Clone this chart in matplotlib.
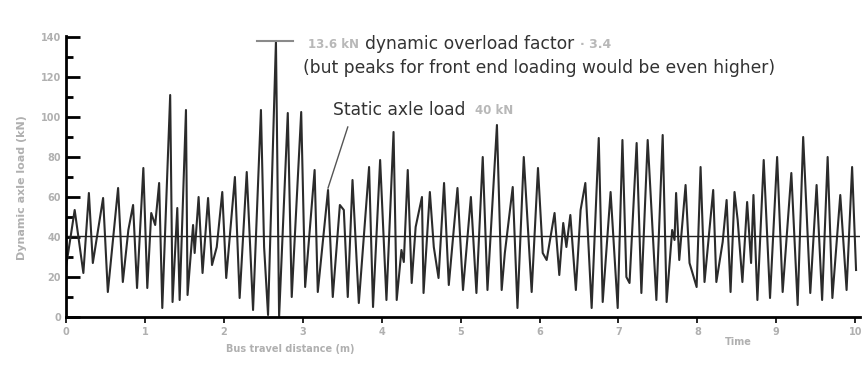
import matplotlib
matplotlib.use("Agg")
import matplotlib.pyplot as plt

time_s = [0.00, 0.11, 0.22, 0.29, 0.34, 0.47, 0.53, 0.66, 0.72, 0.79,
          0.85, 0.90, 0.98, 1.03, 1.08, 1.13, 1.18, 1.22, 1.32, 1.35,
          1.41, 1.44, 1.52, 1.54, 1.61, 1.63, 1.68, 1.73, 1.80, 1.85,
          1.91, 1.98, 2.03, 2.14, 2.20, 2.29, 2.37, 2.47, 2.51, 2.56,
          2.66, 2.70, 2.81, 2.86, 2.98, 3.03, 3.15, 3.19, 3.32, 3.38,
          3.47, 3.52, 3.57, 3.63, 3.71, 3.84, 3.89, 3.98, 4.06, 4.15,
          4.19, 4.25, 4.28, 4.33, 4.38, 4.43, 4.51, 4.53, 4.61, 4.66,
          4.72, 4.79, 4.85, 4.96, 5.03, 5.13, 5.20, 5.28, 5.34, 5.46,
          5.52, 5.56, 5.66, 5.72, 5.80, 5.90, 5.98, 6.04, 6.09, 6.19,
          6.25, 6.30, 6.34, 6.39, 6.46, 6.52, 6.58, 6.66, 6.75, 6.80,
          6.90, 6.99, 7.05, 7.10, 7.14, 7.23, 7.29, 7.37, 7.48, 7.56,
          7.61, 7.68, 7.71, 7.73, 7.77, 7.85, 7.90, 7.99, 8.04, 8.09,
          8.20, 8.24, 8.32, 8.37, 8.42, 8.47, 8.51, 8.57, 8.63, 8.68,
          8.71, 8.76, 8.84, 8.92, 9.01, 9.08, 9.19, 9.27, 9.34, 9.43,
          9.51, 9.58, 9.65, 9.71, 9.81, 9.89, 9.96, 10.01]
load_kn = [25, 53.5, 22, 62, 27, 59.5, 12.5, 64.5, 17.5, 43.5,
           56, 14.5, 74.5, 14.5, 52, 46, 67, 4.5, 111, 7.5,
           54.5, 8.5, 103.5, 11, 46, 32, 60, 22, 59.5, 26,
           35, 62.5, 19.5, 70, 9.5, 72.5, 3.5, 103.5, 35, 1,
           138, 0, 102, 10, 102.5, 15, 73.5, 12.5, 63.5, 10,
           56, 53.5, 10, 68.5, 7, 75, 5, 78.5, 8.5, 92.5,
           8.5, 33.5, 27.5, 73.5, 17, 45, 60, 12, 62.5, 35,
           19.5, 67, 16, 64.5, 13.5, 60, 12, 80, 13.5, 96,
           13.5, 32, 65, 4.5, 80, 12.5, 74.5, 32, 28.5, 52,
           21, 47, 35, 51, 13.5, 53.5, 67, 4.5, 89.5, 7.5,
           62.5, 4.5, 88.5, 20, 17, 87, 12, 88.5, 8.5, 91,
           7.5, 43.5, 38.5, 62, 28.5, 66, 27, 15, 75, 17.5,
           63.5, 17.5, 37.5, 58.5, 12.5, 62.5, 48.5, 17.5, 57.5, 27,
           61, 8.5, 78.5, 9.5, 80, 12.5, 72, 6, 90, 12,
           66, 8.5, 80, 9.5, 61, 13.5, 75, 23.5]

static_load = 40.5
peak_time, peak_load = 2.66, 138

x_ticks = list(range(0, 11))
x_ticklabels = [str(v) for v in x_ticks]
y_major = list(range(0, 141, 20))
y_minor = list(range(10, 140, 20))

fig = plt.figure(figsize=(8.64, 3.67), dpi=100)
ax = fig.add_axes([66 / 864, 50 / 367, 794 / 864, 281 / 367])

ax.plot(time_s, load_kn, color="#2b2b2b", lw=1.5)
ax.axhline(static_load, color="#222222", lw=1.0)

# T-bar marking the peak
ax.plot([peak_time - 0.24, peak_time + 0.22], [peak_load, peak_load],
        color="#8a8a8a", lw=1.5)

ax.set_xlim(0, 10.06)
ax.set_ylim(0, 140.5)
for s in ["top", "right"]:
    ax.spines[s].set_visible(False)
ax.spines["left"].set_linewidth(2)
ax.spines["bottom"].set_linewidth(2)

ax.set_yticks(y_major)
ax.set_yticks(y_minor, minor=True)
ax.set_yticklabels([str(v) for v in y_major], color="#b0b0b0",
                   fontsize=7, fontweight="bold")
ax.tick_params(axis="y", which="major", direction="in", length=10, width=2)
ax.tick_params(axis="y", which="minor", direction="in", length=5, width=2)

ax.set_xticks(x_ticks)
ax.set_xticklabels(x_ticklabels, color="#b0b0b0", fontsize=7,
                   fontweight="bold")
ax.tick_params(axis="x", direction="out", length=4, width=1.2, pad=3)

tc = "#333333"
fs = 12.3
blob = "#b8b8b8"
ax.text(3.06, 136.5, "13.6 kN", color=blob, fontsize=8.5,
        fontweight="bold", va="center")
ax.text(3.785, 136.5, "dynamic overload factor", color=tc, fontsize=fs,
        va="center")
ax.text(6.51, 136.5, "\u00b7 3.4", color=blob, fontsize=9,
        fontweight="bold", va="center")
ax.text(3.0, 124.5, "(but peaks for front end loading would be even higher)",
        color=tc, fontsize=fs, va="center")
ax.text(3.38, 103.5, "Static axle load", color=tc, fontsize=fs, va="center")
ax.text(5.18, 103.5, "40 kN", color=blob, fontsize=8.5,
        fontweight="bold", va="center")
ax.plot([3.57, 3.32], [95, 64.5], color="#555555", lw=1.0)

fig.text(22 / 864, 1 - 188 / 367, "Dynamic axle load (kN)", rotation=90,
         color="#b0b0b0", fontsize=8, fontweight="bold",
         ha="center", va="center")
fig.text(290 / 864, 1 - 349 / 367, "Bus travel distance (m)",
         color="#b0b0b0", fontsize=7, fontweight="bold",
         ha="center", va="center")
fig.text(738 / 864, 1 - 342 / 367, "Time", color="#b0b0b0", fontsize=7,
         fontweight="bold", ha="center", va="center")

fig.savefig("out.png", dpi=100)
